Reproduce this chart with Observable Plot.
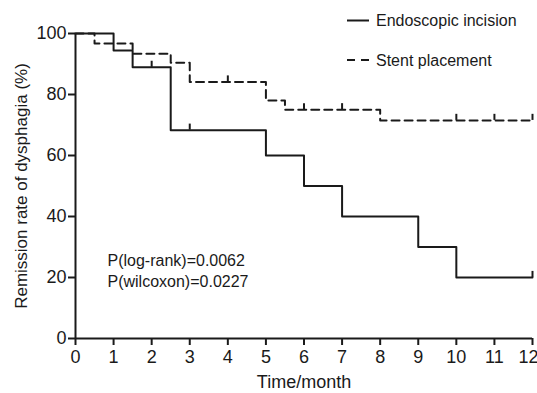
<!DOCTYPE html>
<html>
<head>
<meta charset="utf-8">
<script src="https://cdn.jsdelivr.net/npm/d3@7"></script>
<script src="https://cdn.jsdelivr.net/npm/@observablehq/plot@0.6"></script>
<style>
  html, body { margin: 0; padding: 0; background: #fff; overflow: hidden; }
  #wrap { position: relative; width: 537px; height: 393px; font-family: "Liberation Sans", Arial, sans-serif; color: #1a1a1a; }
  #legend { position: absolute; left: 0; top: 0; pointer-events: none; }
</style>
</head>
<body>
<div id="wrap"></div>
<script>
// ---- data ----
const seriesNames = ["Endoscopic incision", "Stent placement"];
const seriesDash = ["none", "8,5"];
const endoTime = [0, 1, 1.5, 2.5, 5, 6, 7, 9, 10, 12];
const endoSurv = [100, 94.4, 88.9, 68.3, 60, 50, 40, 30, 20, 20];
const endoCensor = [2, 3, 12];
const stentTime = [0, 0.5, 1.5, 2.5, 3, 5, 5.5, 8, 12];
const stentSurv = [100, 96.7, 93.4, 90.4, 84.1, 78, 75, 71.5, 71.5];
const stentCensor = [4, 6, 7, 10, 11, 12];
const xTicks = [0, 1, 2, 3, 4, 5, 6, 7, 8, 9, 10, 11, 12];
const yTicks = [0, 20, 40, 60, 80, 100];
const pTexts = ["P(log-rank)=0.0062", "P(wilcoxon)=0.0227"];
const xLabel = "Time/month";
const yLabel = "Remission rate of dysphagia (%)";

// ---- build tables ----
const endo = endoTime.map((t, i) => ({t, s: endoSurv[i]}));
const stent = stentTime.map((t, i) => ({t, s: stentSurv[i]}));
function stepAt(tbl, t) {
  let v = tbl[0].s;
  for (const d of tbl) if (d.t <= t) v = d.s;
  return v;
}
const endoC = endoCensor.map(t => ({t, s: stepAt(endo, t)}));
const stentC = stentCensor.map(t => ({t, s: stepAt(stent, t)}));
const lastTick = xTicks[xTicks.length - 1];

const ink = "#1a1a1a";
const chart = Plot.plot({
  width: 537,
  height: 393,
  marginLeft: 75,
  marginRight: 5,
  marginTop: 33,
  marginBottom: 55,
  style: {fontFamily: "Liberation Sans, Arial, sans-serif", fontSize: "18px", color: ink, background: "#fff", overflow: "visible"},
  x: {domain: [0, 12]},
  y: {domain: [0, 100]},
  marks: [
    Plot.axisX({ticks: xTicks.slice(0, -1), tickSize: 7, tickPadding: 5, strokeWidth: 2, fontSize: 18, label: null, tickFormat: d => String(d)}),
    Plot.axisX({ticks: [lastTick], tickSize: 7, strokeWidth: 2, text: null, label: null}),
    Plot.axisX({ticks: [lastTick], tickSize: 0, tickPadding: 12, fontSize: 18, label: null, dx: -4, tickFormat: d => String(d)}),
    Plot.axisY({ticks: yTicks, tickSize: 7, tickPadding: 2, strokeWidth: 2, fontSize: 18, label: null}),
    Plot.ruleX([0], {y1: 0, y2: 100, stroke: ink, strokeWidth: 2}),
    Plot.ruleY([0], {x1: 0, x2: 12, stroke: ink, strokeWidth: 2}),
    Plot.lineY(stent, {x: "t", y: "s", curve: "step-after", stroke: ink, strokeWidth: 2, strokeDasharray: seriesDash[1]}),
    Plot.lineY(endo, {x: "t", y: "s", curve: "step-after", stroke: ink, strokeWidth: 2}),
    Plot.ruleX(endoC, {x: "t", y1: "s", y2: d => d.s + 2, stroke: ink, strokeWidth: 2}),
    Plot.ruleX(stentC, {x: "t", y1: "s", y2: d => d.s + 2, stroke: ink, strokeWidth: 2}),
    ...pTexts.map((p, i) => Plot.text([p], {text: d => d, frameAnchor: "top-left", dx: 32, dy: 227 + i * 21, fill: ink, fontSize: 16, textAnchor: "start", lineAnchor: "middle"})),
    Plot.text([yLabel], {text: d => d, frameAnchor: "left", dx: -54, rotate: -90, fill: ink, fontSize: 17, textAnchor: "middle", lineAnchor: "middle"}),
    Plot.text([xLabel], {text: d => d, frameAnchor: "bottom", dy: 44, fill: ink, fontSize: 18, textAnchor: "middle", lineAnchor: "middle"})
  ]
});
const wrap = document.getElementById("wrap");
wrap.appendChild(chart);

// ---- legend (overlay, top-right) ----
const ns = "http://www.w3.org/2000/svg";
const lg = document.createElementNS(ns, "svg");
lg.setAttribute("id", "legend");
lg.setAttribute("width", 537);
lg.setAttribute("height", 393);
const legendY = [20.5, 60];
seriesNames.forEach((name, i) => {
  const ln = document.createElementNS(ns, "line");
  ln.setAttribute("x1", 347); ln.setAttribute("x2", 369);
  ln.setAttribute("y1", legendY[i]); ln.setAttribute("y2", legendY[i]);
  ln.setAttribute("stroke", ink); ln.setAttribute("stroke-width", 2);
  if (seriesDash[i] !== "none") ln.setAttribute("stroke-dasharray", "8,6");
  lg.appendChild(ln);
  const tx = document.createElementNS(ns, "text");
  tx.setAttribute("x", 376); tx.setAttribute("y", legendY[i]);
  tx.setAttribute("dy", "0.35em");
  tx.setAttribute("fill", ink);
  tx.setAttribute("font-size", 16);
  tx.setAttribute("font-family", "Liberation Sans, Arial, sans-serif");
  tx.textContent = name;
  lg.appendChild(tx);
});
wrap.appendChild(lg);
</script>
</body>
</html>
